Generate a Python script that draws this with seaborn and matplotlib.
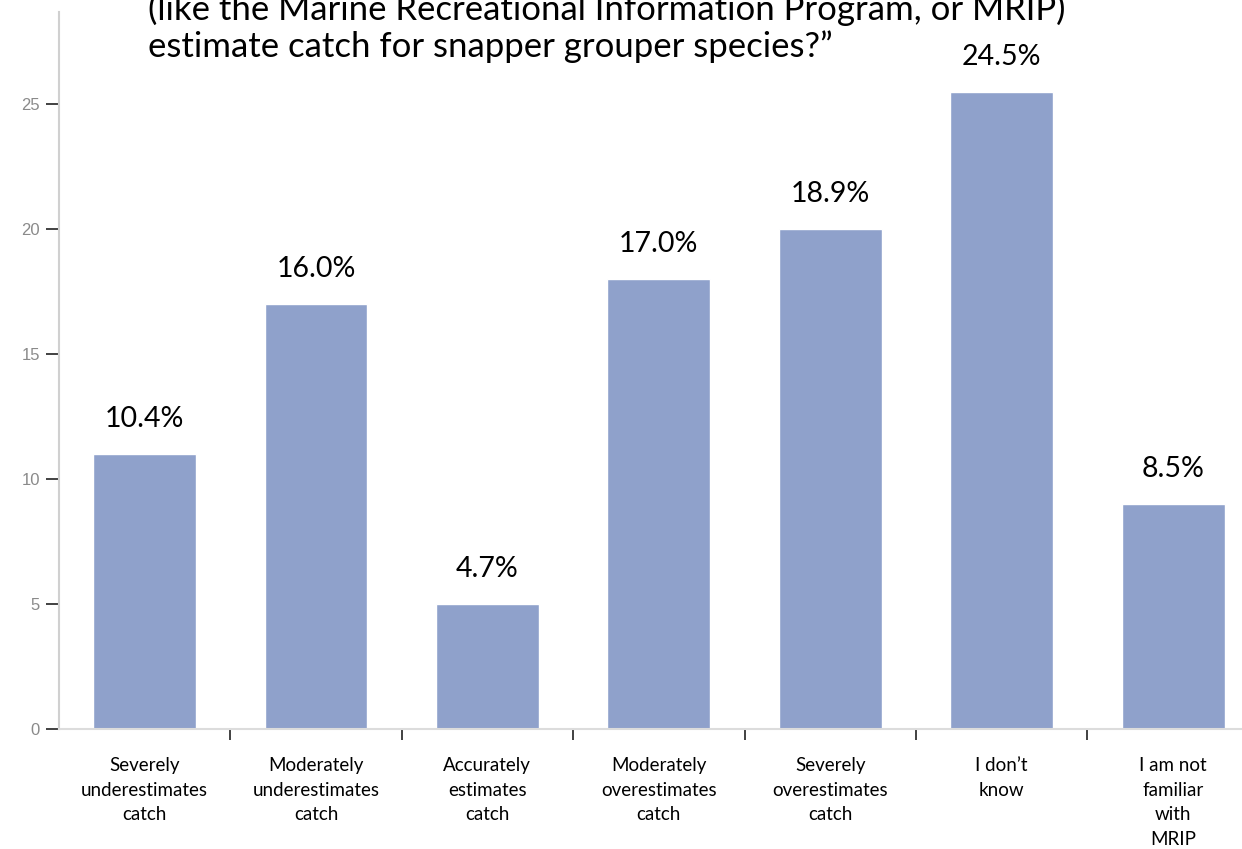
import matplotlib
matplotlib.use("Agg")
import matplotlib.pyplot as plt
import seaborn as sns

# data
categories = [
    "Severely\nunderestimates\ncatch",
    "Moderately\nunderestimates\ncatch",
    "Accurately\nestimates\ncatch",
    "Moderately\noverestimates\ncatch",
    "Severely\noverestimates\ncatch",
    "I don\u2019t\nknow",
    "I am not\nfamiliar\nwith\nMRIP",
]
counts = [11, 17, 5, 18, 20, 25.5, 9]
pct_labels = ["10.4%", "16.0%", "4.7%", "17.0%", "18.9%", "24.5%", "8.5%"]
title_lines = [
    "(like the Marine Recreational Information Program, or MRIP)",
    "estimate catch for snapper grouper species?\u201d",
]
yticks = [0, 5, 10, 15, 20, 25]

sns.set_style("white")
plt.rcParams["font.family"] = ["Lato", "DejaVu Sans"]

W, H = 1242, 849
fig = plt.figure(figsize=(W / 100, H / 100), dpi=100)
ax = fig.add_axes([58.8 / W, 120 / H, 1200 / W, 717 / H])

bar_color = "#8FA1CB"
sns.barplot(x=categories, y=counts, color=bar_color, saturation=1,
            width=0.6, ax=ax)

ax.set_xlim(-0.5, 6.5)
ax.set_ylim(0, 28.68)

# percent labels above bars
for patch, lab in zip(ax.patches, pct_labels):
    ax.annotate(lab, (patch.get_x() + patch.get_width() / 2, patch.get_height()),
                xytext=(0, 25), textcoords="offset points",
                ha="center", va="center", fontsize=20.5, color="black")

# spines
for s in ["top", "right"]:
    ax.spines[s].set_visible(False)
ax.spines["left"].set_color("#d0d0d0")
ax.spines["left"].set_linewidth(1.5)
ax.spines["bottom"].set_color("#dcdcdc")
ax.spines["bottom"].set_linewidth(1.5)

# y ticks
ax.set_yticks(yticks)
ax.set_yticklabels([str(v) for v in yticks], family="Liberation Sans",
                   fontsize=12, color="#8a8a8a")
ax.tick_params(axis="y", direction="out", length=9.5, width=1.3,
               color="#333333", pad=4, left=True)

# x ticks: labels at centres, marks on boundaries
ax.set_xticks(range(len(categories)))
ax.set_xticklabels(categories, fontsize=13.5, color="black", linespacing=1.56,
                   va="top")
ax.tick_params(axis="x", which="major", length=0, pad=20)
ax.set_xticks([i + 0.5 for i in range(len(categories) - 1)], minor=True)
ax.tick_params(axis="x", which="minor", direction="out", length=8,
               width=1.3, color="#333333", bottom=True)
ax.set_xlabel("")
ax.set_ylabel("")

# question title, partly cut off at the top
fig.text(148 / W, 1 - 20 / H, title_lines[0], fontsize=25, color="black",
         ha="left", va="baseline")
fig.text(148 / W, 1 - 57 / H, title_lines[1], fontsize=25, color="black",
         ha="left", va="baseline")

fig.savefig("out.png", dpi=100)
